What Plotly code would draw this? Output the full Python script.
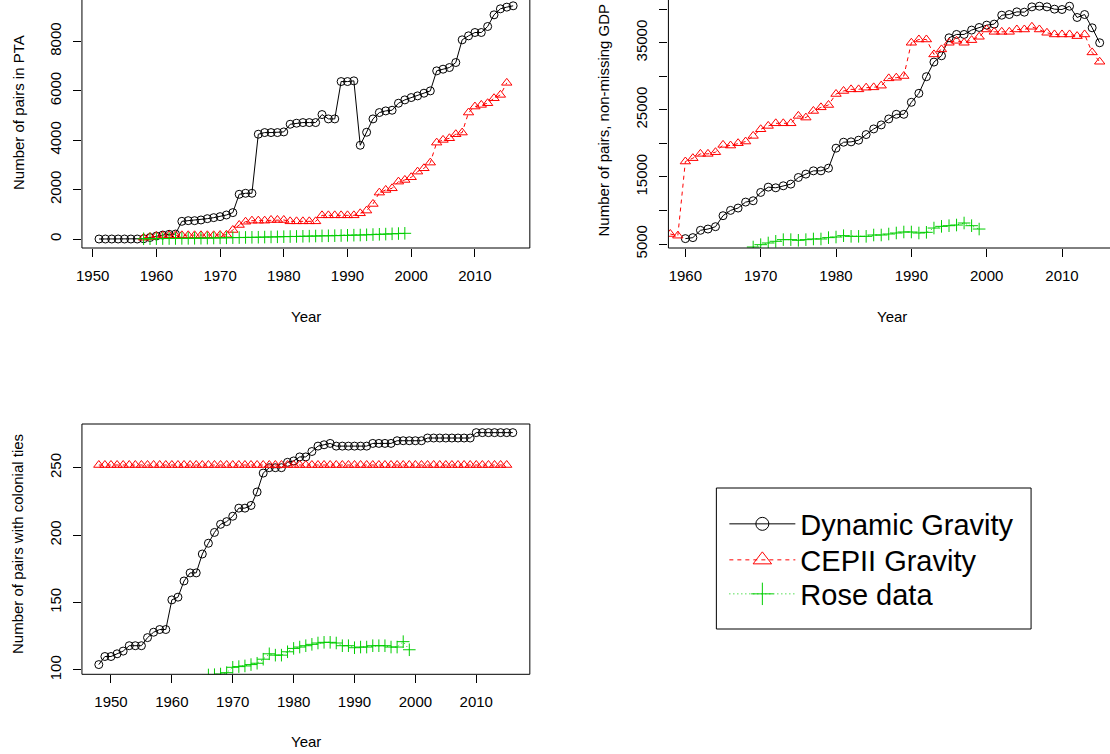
import plotly.graph_objects as go

W, H = 1110, 764
REF_W, REF_H = 1110, 754
X_SHIFT = 5.0
FONT = "Liberation Sans, Arial, Helvetica, sans-serif"

# ---------------- data ----------------
pta_years_dyn = list(range(1951, 2017))
pta_dynamic = [0, 0, 0, 0, 0, 0, 0, 10, 60, 120, 160, 190, 200,
               715, 742, 742, 770, 823, 864, 905, 972, 1067,
               1809, 1850, 1850, 4240, 4307, 4307, 4307, 4334,
               4644, 4685, 4712, 4712, 4712, 5036, 4860, 4860,
               6372, 6372, 6400, 3794, 4320, 4860, 5117, 5184, 5211,
               5495, 5630, 5724, 5792, 5900, 5994, 6804, 6872, 6939,
               7142, 8060, 8222, 8357, 8357, 8600, 9072, 9315, 9383, 9437]
pta_years_cepii = list(range(1958, 2016))
pta_cepii = [50, 80, 120, 140, 150, 150, 150, 150, 150, 150, 150, 150, 160, 170,
             365, 567, 700, 742, 742, 742, 770, 770, 770,
             715, 715, 715, 715, 715, 958, 958, 958, 958, 958, 958,
             1040, 1150, 1418, 1877, 1985, 2052, 2322, 2390, 2500,
             2727, 2862, 3092, 3900, 4010, 4077, 4240, 4307,
             5117, 5360, 5427, 5495, 5697, 5832, 6320]
pta_years_rose = list(range(1958, 2000))
pta_rose = [10, 12, 15, 18, 20, 22, 25, 27, 30, 33, 36, 40, 45, 48, 55, 58,
            64, 68, 72, 78, 82, 88, 95, 100, 104, 110, 115, 120, 126, 130,
            135, 142, 150, 155, 160, 170, 180, 190, 198, 210, 220, 230]

gdp_years_dyn = list(range(1960, 2016))
gdp_dynamic = [5800, 5950, 7040, 7230, 7580, 9220, 10010, 10360, 11250, 11450,
               12690, 13480, 13380, 13680, 13930, 14920, 15420, 15910, 15910, 16310,
               19290, 20180, 20230, 20480, 21320, 22160, 22760, 23650, 24340, 24340,
               26130, 27470, 29950, 32130, 33070, 35750, 36250, 36250, 36900, 37290,
               37640, 37790, 39120, 39220, 39620, 39570, 40360, 40460, 40360, 40020,
               39970, 40460, 38780, 39220, 37240, 35010]
gdp_years_cepii = list(range(1958, 2016))
gdp_cepii = [6490, 6240, 17300, 17800, 18440, 18440, 18690, 19780, 19680, 20030,
             20280, 21120, 22110, 22610, 23000, 23000, 23000, 24100, 23850, 24840,
             25380, 25730, 27370, 27820, 28060, 28060, 28310, 28360, 28610, 29700,
             29800, 30050, 35010, 35500, 35500, 33270, 34020, 35010, 35300, 35010,
             35400, 35900, 36990, 36640, 36640, 36640, 36990, 36990, 37390, 36990,
             36500, 36250, 36250, 36250, 36000, 36250, 33570, 32180]
gdp_years_rose = list(range(1969, 2000))
gdp_rose = [4550, 4900, 5150, 5400, 5650, 5650, 5550, 5650, 5750, 5750,
            5950, 6040, 6240, 6140, 6140, 6140, 6340, 6340, 6490, 6640,
            6790, 6790, 6640, 6740, 7380, 7630, 7730, 7830, 8130, 7730, 7230]

col_years_dyn = list(range(1948, 2017))
col_dynamic = [104, 110, 110, 112, 114, 118, 118, 118, 124, 128, 130, 130,
               152, 154, 166, 172, 172, 186, 194, 202, 208, 210,
               214, 220, 220, 222, 232, 246, 250, 250, 250, 254,
               255, 258, 258, 262, 266, 267, 268, 266, 266, 266,
               266, 266, 266, 268, 268, 268, 268, 270, 270, 270,
               270, 270, 272, 272, 272, 272, 272, 272, 272, 272,
               276, 276, 276, 276, 276, 276, 276]
col_years_cepii = list(range(1948, 2016))
col_cepii = [252] * len(col_years_cepii)
col_years_rose = list(range(1966, 2000))
col_rose = [96.3, 96.5, 97, 98, 102, 102.5, 103, 104, 105, 108,
            112, 111, 111, 113.5, 116, 117, 118, 119, 120, 120.5,
            120.5, 120, 118, 118, 116.5, 117, 117, 118, 118, 118,
            117, 117, 121, 115]

series_names = ["Dynamic Gravity", "CEPII Gravity", "Rose data"]
x_ticks = [1950, 1960, 1970, 1980, 1990, 2000, 2010]
pta_ticks = [0, 2000, 4000, 6000, 8000]
gdp_ticks = [5000, 10000, 15000, 20000, 25000, 30000, 35000, 40000]
gdp_ticktext = ["5000", "", "15000", "", "25000", "", "35000", ""]
col_ticks = [100, 150, 200, 250]

# ---------------- styles ----------------
BLACK, RED, GREEN = "#000000", "#FF0000", "#00CD00"
line_styles = [dict(color=BLACK, width=1),
               dict(color=RED, width=1, dash="4px,4px"),
               dict(color=GREEN, width=1, dash="1px,3px")]
symbols = ["circle-open", "triangle-up-open", "cross-thin-open"]
colors = [BLACK, RED, GREEN]
plot_sizes = [8, 9, 9]
legend_sizes = [13, 16, 16]

fig = go.Figure()

panels = [
    ("x", "y", [(pta_years_dyn, pta_dynamic), (pta_years_cepii, pta_cepii), (pta_years_rose, pta_rose)]),
    ("x2", "y2", [(gdp_years_dyn, gdp_dynamic), (gdp_years_cepii, gdp_cepii), (gdp_years_rose, gdp_rose)]),
    ("x3", "y3", [(col_years_dyn, col_dynamic), (col_years_cepii, col_cepii), (col_years_rose, col_rose)]),
]
for pi, (xa, ya, series) in enumerate(panels):
    for si, (xs, ys) in enumerate(series):
        fig.add_trace(go.Scatter(
            x=xs, y=ys, mode="lines+markers", name=series_names[si],
            legendgroup=series_names[si], showlegend=False,
            xaxis=xa, yaxis=ya, line=line_styles[si],
            marker=dict(symbol=symbols[si], size=plot_sizes[si], color=colors[si],
                        line=dict(width=1, color=colors[si]))))

# legend entries (one legend per row so rows can be spaced like the original)
legend_ids = ["legend", "legend2", "legend3"]
for si in range(3):
    fig.add_trace(go.Scatter(
        x=[None], y=[None], mode="lines+markers", name=series_names[si],
        legendgroup=series_names[si], showlegend=True, legend=legend_ids[si],
        line=line_styles[si],
        marker=dict(symbol=symbols[si], size=legend_sizes[si], color=colors[si],
                    line=dict(width=1, color=colors[si]))))


def px_x(p):
    # reference pixel -> paper fraction
    return min(1.0, max(0.0, (p * (REF_W + X_SHIFT) / REF_W - X_SHIFT) / W))


def px_y(p):
    return 1 - p / REF_H


tickfont = dict(family=FONT, size=15, color="black")
axis_common = dict(showgrid=False, zeroline=False, showline=False, ticks="outside",
                   ticklen=8, tickwidth=1, tickcolor="black", tickfont=tickfont,
                   ticklabelstandoff=6)

legend_rows = [524, 560, 594]
legend_common = dict(xanchor="left", yanchor="middle", bgcolor="rgba(0,0,0,0)",
                     borderwidth=0, font=dict(family=FONT, size=29, color="black"),
                     itemwidth=66)

fig.update_layout(
    width=W, height=H, margin=dict(l=0, r=0, t=0, b=0),
    paper_bgcolor="white", plot_bgcolor="white",
    font=dict(family=FONT, color="black"),
    xaxis=dict(domain=[px_x(81), px_x(529.3)], range=[1948.32, 2018.62],
               tickvals=x_ticks, anchor="y", **axis_common),
    yaxis=dict(domain=[px_y(248), 1.0], range=[-364, 9672], tickvals=pta_ticks,
               tickangle=-90, anchor="x", **axis_common),
    xaxis2=dict(domain=[px_x(668), 1.0], range=[1957.75, 2016.37],
                tickvals=x_ticks, anchor="y2", **axis_common),
    yaxis2=dict(domain=[px_y(248), 1.0], range=[4403, 41387], tickvals=gdp_ticks,
                ticktext=gdp_ticktext, tickangle=-90, anchor="x2", **axis_common),
    xaxis3=dict(domain=[px_x(81), px_x(529.3)], range=[1945.23, 2018.8],
                tickvals=x_ticks, anchor="y3", **axis_common),
    yaxis3=dict(domain=[px_y(674.3), px_y(424)], range=[96.8, 282.4], tickvals=col_ticks,
                tickangle=-90, anchor="x3", **axis_common),
    legend=dict(x=px_x(724), y=px_y(legend_rows[0]), **legend_common),
    legend2=dict(x=px_x(724), y=px_y(legend_rows[1]), **legend_common),
    legend3=dict(x=px_x(724), y=px_y(legend_rows[2]), **legend_common),
    showlegend=True,
)

# plot frames (R box; parts cropped off in the original are omitted) and legend box
frame_lines = [
    (81, 248, 529.3, 248), (81, 0, 81, 248), (529.3, 0, 529.3, 248),      # panel 1
    (668, 248, 1110, 248), (668, 0, 668, 248),                           # panel 2
    (81, 424, 529.3, 424), (81, 674.3, 529.3, 674.3),                    # panel 3
    (81, 424, 81, 674.3), (529.3, 424, 529.3, 674.3),
    (716, 488, 1031, 488), (716, 629, 1031, 629),                        # legend box
    (716, 488, 716, 629), (1031, 488, 1031, 629),
]
for x0, y0, x1, y1 in frame_lines:
    fig.add_shape(type="line", xref="paper", yref="paper",
                  x0=px_x(x0), x1=px_x(x1), y0=px_y(y0), y1=px_y(y1),
                  line=dict(color="black", width=1), layer="above")

# axis titles
titles = [
    ("Number of pairs in PTA", 17, 113, -90),
    ("Year", 305, 316, 0),
    ("Number of pairs, non-missing GDP", 603, 120, -90),
    ("Year", 892, 316, 0),
    ("Number of pairs with colonial ties", 16, 544, -90),
    ("Year", 305, 741, 0),
]
for text, x, y, ang in titles:
    fig.add_annotation(text=text, xref="paper", yref="paper", x=px_x(x), y=px_y(y),
                       xanchor="center", yanchor="middle", textangle=ang, showarrow=False,
                       font=dict(family=FONT, size=15, color="black"))

fig.write_html("out.html")
